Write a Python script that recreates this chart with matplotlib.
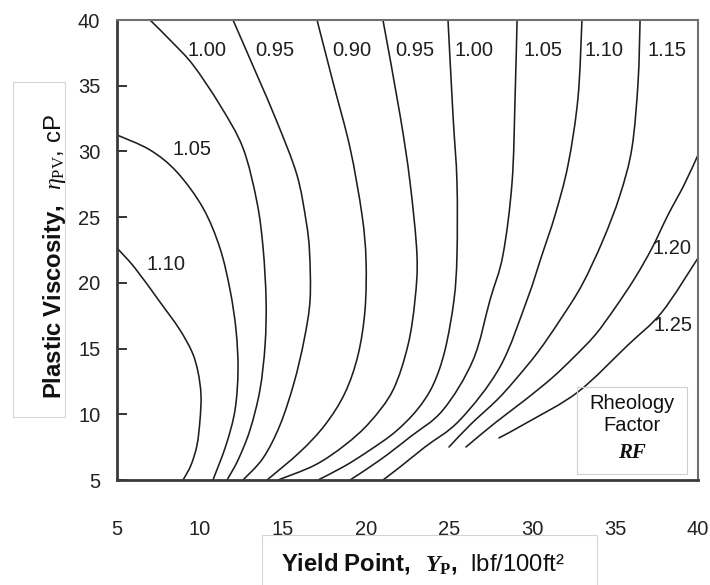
import matplotlib
matplotlib.use("Agg")
import matplotlib.pyplot as plt
import numpy as np
from matplotlib.patches import Rectangle, PathPatch
from matplotlib.path import Path

# ── Rheology factor contours (Yield Point YP vs Plastic Viscosity PV) ──
rf_110_left_yp = [5.00, 6.08, 7.59, 8.75, 9.52, 9.88, 10.06, 10.00, 9.82, 9.46, 8.98]
rf_110_left_pv = [22.65, 21.13, 18.54, 16.50, 14.74, 13.22, 11.47, 9.57, 7.66, 6.14, 5.00]

rf_105_left_yp = [5.00, 6.99, 8.61, 10.18, 11.20, 11.81, 12.17, 12.29, 12.11, 11.57, 10.78]
rf_105_left_pv = [31.25, 30.11, 28.43, 25.70, 22.65, 19.46, 16.41, 13.37, 10.33, 7.66, 5.00]

rf_100_left_yp = [6.99, 8.31, 9.58, 11.20, 12.59, 13.43, 13.80, 13.98, 13.92, 13.61, 13.01, 12.29, 11.63]
rf_100_left_pv = [40.00, 38.33, 36.58, 33.53, 30.26, 26.15, 22.65, 18.70, 15.27, 11.85, 8.80, 6.52, 5.00]

rf_095_left_yp = [11.99, 13.43, 14.64, 15.84, 16.40, 16.60, 16.63, 16.27, 15.66, 14.82, 13.80, 12.59]
rf_095_left_pv = [40.00, 35.82, 32.24, 28.21, 24.63, 22.30, 18.70, 15.65, 12.38, 9.18, 6.67, 5.00]

rf_090_yp = [17.05, 18.01, 19.04, 19.76, 20.00, 19.94, 19.52, 18.73, 17.53, 16.02, 14.04]
rf_090_pv = [40.00, 35.28, 30.26, 25.16, 21.74, 17.93, 14.51, 11.62, 9.19, 7.13, 5.00]

rf_095_right_yp = [21.02, 22.05, 22.65, 23.07, 22.95, 22.53, 21.63, 20.24, 18.73, 16.93, 14.70]
rf_095_right_pv = [40.00, 32.77, 27.67, 22.12, 18.70, 15.27, 11.85, 9.41, 7.66, 6.14, 5.00]

rf_100_right_yp = [24.94, 25.24, 25.48, 25.48, 25.30, 24.76, 24.04, 23.07, 21.75, 20.24, 18.73, 17.11]
rf_100_right_pv = [40.00, 32.77, 27.67, 22.12, 18.70, 14.89, 12.23, 10.33, 8.65, 7.28, 6.07, 5.00]

rf_105_right_yp = [29.10, 28.98, 28.80, 28.25, 27.47, 26.45, 24.64, 22.65, 20.84, 19.04]
rf_105_right_pv = [40.00, 34.07, 27.67, 22.12, 18.70, 14.13, 10.33, 8.27, 6.52, 5.00]

rf_110_right_yp = [33.01, 32.77, 32.17, 31.39, 30.60, 29.70, 28.07, 25.66, 23.55, 22.05, 21.02]
rf_110_right_pv = [40.00, 34.07, 28.97, 25.16, 22.12, 18.70, 13.60, 9.57, 7.51, 5.99, 5.00]

rf_115_yp = [36.51, 36.39, 36.02, 35.30, 34.28, 33.01, 31.69, 30.36, 28.98, 27.89, 26.27, 25.00]
rf_115_pv = [40.00, 35.28, 30.26, 26.68, 23.26, 19.84, 17.17, 14.74, 12.61, 11.09, 9.19, 7.51]

rf_120_yp = [40.00, 39.16, 38.19, 37.23, 36.20, 35.00, 33.80, 32.47, 31.20, 29.58, 27.77, 26.02]
rf_120_pv = [29.73, 27.45, 25.16, 22.65, 20.37, 18.09, 16.03, 14.28, 12.76, 11.09, 9.34, 7.51]

rf_125_yp = [40.00, 37.83, 35.78, 32.77, 29.76, 28.01]
rf_125_pv = [21.89, 17.78, 15.27, 11.70, 9.41, 8.20]

# contour label text and where it sits (YP, PV)
label_text = ["1.00", "0.95", "0.90", "0.95", "1.00", "1.05", "1.10", "1.15",
              "1.05", "1.10", "1.20", "1.25"]
label_yp = [10.42, 14.52, 19.16, 22.95, 26.51, 30.66, 34.34, 38.13,
            9.52, 7.95, 38.43, 38.49]
label_pv = [37.7, 37.7, 37.7, 37.7, 37.7, 37.7, 37.7, 37.7,
            30.18, 21.36, 22.65, 16.72]

ticks = [5, 10, 15, 20, 25, 30, 35, 40]


# ── helpers ──────────────────────────────────────────────────────
def smooth_path(xs, ys):
    """Bezier path (Catmull-Rom) passing through the read-off points."""
    p = np.column_stack([xs, ys])
    ext = np.vstack([p[0], p, p[-1]])
    verts = [p[0]]
    codes = [Path.MOVETO]
    for i in range(len(p) - 1):
        p0, p1, p2, p3 = ext[i], ext[i + 1], ext[i + 2], ext[i + 3]
        verts += [p1 + (p2 - p0) / 6, p2 - (p3 - p1) / 6, p2]
        codes += [Path.CURVE4] * 3
    return Path(verts, codes)


# ── style ────────────────────────────────────────────────────────
plt.rcParams["font.family"] = ["Liberation Sans", "DejaVu Sans"]
plt.rcParams["mathtext.fontset"] = "custom"
plt.rcParams["mathtext.rm"] = "Liberation Serif"
plt.rcParams["mathtext.it"] = "Liberation Serif:italic"
plt.rcParams["mathtext.bf"] = "Liberation Serif:bold"
plt.rcParams["mathtext.sf"] = "Liberation Sans:bold"
try:
    plt.rcParams["mathtext.bfit"] = "Liberation Serif:bold:italic"
except KeyError:
    pass

fig = plt.figure(figsize=(7.1, 5.85), dpi=100)
ax = fig.add_axes([117 / 710, 1 - 480 / 585, 581 / 710, 460 / 585])

curves = [
    (rf_110_left_yp, rf_110_left_pv), (rf_105_left_yp, rf_105_left_pv),
    (rf_100_left_yp, rf_100_left_pv), (rf_095_left_yp, rf_095_left_pv),
    (rf_090_yp, rf_090_pv), (rf_095_right_yp, rf_095_right_pv),
    (rf_100_right_yp, rf_100_right_pv), (rf_105_right_yp, rf_105_right_pv),
    (rf_110_right_yp, rf_110_right_pv), (rf_115_yp, rf_115_pv),
    (rf_120_yp, rf_120_pv), (rf_125_yp, rf_125_pv),
]
for xs, ys in curves:
    ax.add_patch(PathPatch(smooth_path(xs, ys), fill=False,
                           edgecolor="#1e1e1e", lw=1.15, capstyle="round"))

for t, x, y in zip(label_text, label_yp, label_pv):
    ax.text(x, y, t, ha="center", va="center", fontsize=14.5, color="#1e1e1e")

# Rheology Factor box
ax.add_patch(Rectangle((32.71, 5.46), 6.63, 6.62, fill=False,
                       edgecolor="#d0d0d0", lw=0.8))
ax.text(36.02, 9.98, "Rheology\nFactor", ha="center", va="center",
        fontsize=14.5, linespacing=1.15, color="#111111")
ax.text(36.02, 7.05, "RF", ha="center", va="center", fontsize=15,
        family="Liberation Serif", weight="bold", style="italic",
        color="#111111")

ax.set_xlim(5, 40)
ax.set_ylim(5, 40)
ax.set_xticks(ticks)
ax.set_yticks(ticks)
ax.tick_params(axis="x", length=0, pad=29, labelsize=14.5, labelcolor="#222222")
ax.tick_params(axis="y", direction="in", length=7.2, width=1.4,
               color="#333333", pad=12, labelsize=14.5, labelcolor="#222222")

for side in ("left", "bottom"):
    ax.spines[side].set_color("#3a3a3a")
    ax.spines[side].set_linewidth(2.0)
for side in ("top", "right"):
    ax.spines[side].set_color("#707070")
    ax.spines[side].set_linewidth(1.5)

# faint frames behind the axis titles
fig.add_artist(Rectangle((13 / 710, 1 - 417 / 585), 52 / 710, 335 / 585,
                         transform=fig.transFigure, fill=False,
                         edgecolor="#d4d4d4", lw=0.8))
fig.add_artist(Rectangle((262 / 710, -0.05), 335 / 710, 0.05 + 50 / 585,
                         transform=fig.transFigure, fill=False,
                         edgecolor="#d4d4d4", lw=0.8))

fig.text(423 / 710, 1 - 563 / 585,
         r"$\mathsf{Yield\ Point,}\ \ \mathbfit{Y}_{\mathbf{P}}\mathsf{,}$  lbf/100ft²",
         ha="center", va="center", fontsize=17.2, color="#111111")
fig.text(54 / 710, 1 - 257 / 585,
         r"$\mathsf{Plastic\ Viscosity,}\ \ \eta_{\mathrm{PV}}$, cP",
         ha="center", va="center", rotation=90, fontsize=17.2, color="#111111")

plt.savefig("out.png", dpi=100)
plt.close()
